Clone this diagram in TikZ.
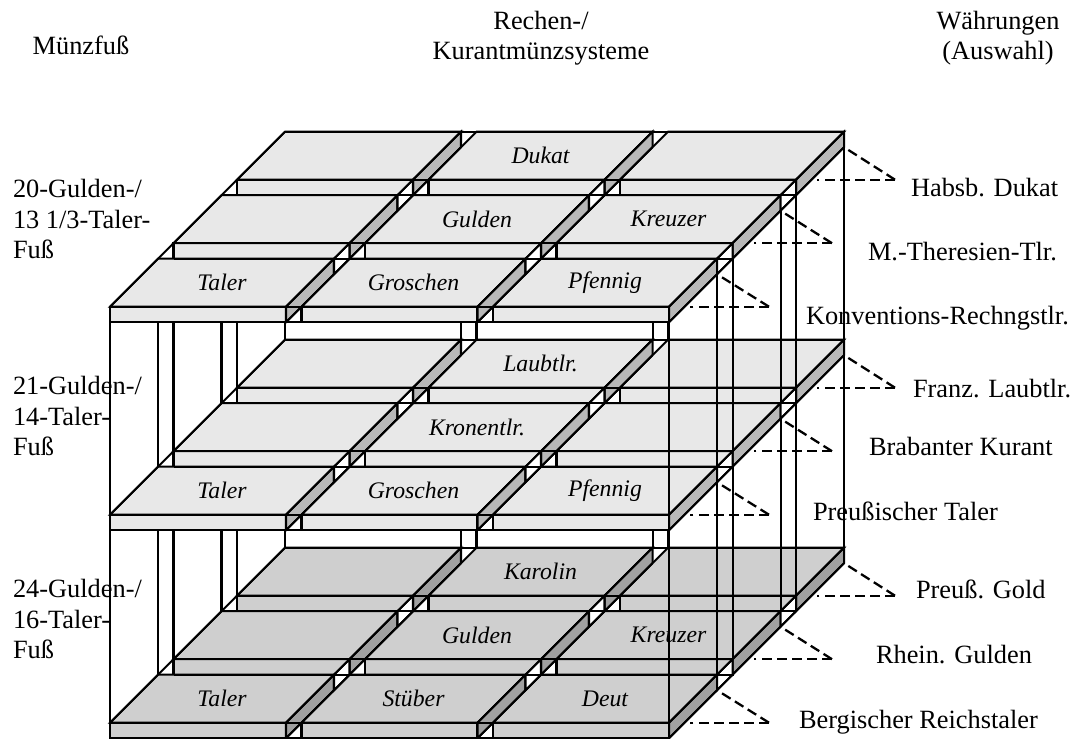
\documentclass[tikz,border=0pt]{standalone}
\usepackage{fontspec}
\setmainfont{Liberation Serif}
\usetikzlibrary{calc}

\begin{document}
\begin{tikzpicture}[x=0.2mm,y=-0.2mm,line width=1.15pt,
    slab/.style={draw=black,line join=miter},
    link/.style={dash pattern=on 5.7pt off 2.9pt,line width=1.3pt},
    coin/.style={font=\fontsize{13.5}{15}\selectfont\itshape},
    txt/.style={font=\fontsize{15}{17.1}\selectfont,align=left,inner sep=0pt}]

    \useasboundingbox (0,0) rectangle (1074,738);

    % pillars behind the slabs (left side and back)
    \foreach \lv in {0,1} {
      \foreach \rw in {0,1,2} {
        \foreach \kk in {0,48} {
          \pgfmathsetmacro{\yt}{306.7+208*\lv-63.5*\rw-\kk}
          \draw (110+63.5*\rw+\kk,\yt+15.5) -- (110+63.5*\rw+\kk,\yt+208);
        }
      }
      \foreach \px in {461,476.5,652.5,668} {
        \draw (\px,131.7+208*\lv+15.5) -- (\px,131.7+208*\lv+208);
      }
    }

    % three levels, rows back to front
    \foreach \lv/\tf/\sf in {0/black!9/black!28,1/black!9/black!28,2/black!19/black!37} {
      \pgfmathsetmacro{\yf}{306.7+208*\lv}
      \foreach \rw in {2,1,0} {
        \foreach \cl in {0,1,2} {
          \pgfmathsetmacro{\xa}{110+191.5*\cl+63.5*\rw}
          \pgfmathsetmacro{\ya}{\yf-63.5*\rw}
          \draw[slab,fill=\tf] (\xa,\ya) rectangle ++(176,15.5);
          \draw[slab,fill=\tf] (\xa,\ya) -- ++(48,-48) -- ++(176,0) -- ++(-48,48) -- cycle;
          \draw[slab,fill=\sf] (\xa+176,\ya) -- ++(48,-48) -- ++(0,15.5) -- ++(-48,48) -- cycle;
        }
      }
      % gaps between the rows
      \foreach \xr in {286,477.5,669} {
        \foreach \rw in {0,1} {
          \draw[slab,fill=white] (\xr+48+63.5*\rw,\yf-48-63.5*\rw) -- ++(15.5,-15.5) -- ++(0,15.5) -- ++(-15.5,15.5) -- cycle;
        }
      }
      \foreach \rw in {0,1,2} {
        \draw (110+63.5*\rw,\yf-63.5*\rw) -- (669+63.5*\rw,\yf-63.5*\rw);
        \draw (110+63.5*\rw,\yf-63.5*\rw+15.5) -- (669+63.5*\rw,\yf-63.5*\rw+15.5);
      }
      \draw (285,\yf-175) -- (844,\yf-175);
      \draw (110,\yf) -- ++(175,-175);
      \foreach \xr in {286,477.5,669} {
        \draw (\xr,\yf) -- ++(175,-175);
        \draw (\xr,\yf+15.5) -- ++(175,-175);
      }
    }

    % coin names on the slabs
    \foreach \lv/\rw/\cl/\coinname in {0/2/1/Dukat,0/1/1/Gulden,0/1/2/Kreuzer,
        0/0/0/Taler,0/0/1/Groschen,0/0/2/Pfennig,
        1/2/1/Laubtlr.,1/1/1/Kronentlr.,1/0/0/Taler,1/0/1/Groschen,1/0/2/Pfennig,
        2/2/1/Karolin,2/1/1/Gulden,2/1/2/Kreuzer,2/0/0/Taler,2/0/1/Stüber,2/0/2/Deut}
      \node[coin] (m-\lv-\rw-\cl) at (110+191.5*\cl+63.5*\rw+112,306.7+208*\lv-63.5*\rw-24) {\coinname};

    % pillars in front (right side)
    \foreach \lv in {0,1} {
      \foreach \rw in {0,1,2} {
        \foreach \kk in {0,48} {
          \pgfmathsetmacro{\yt}{306.7+208*\lv-63.5*\rw-\kk}
          \draw (669+63.5*\rw+\kk,\yt+15.5) -- (669+63.5*\rw+\kk,\yt+208);
        }
      }
    }

    % dashed pointers
    \foreach \lv in {0,1,2} {
      \foreach \rw in {0,1,2} {
        \pgfmathsetmacro{\ya}{306.7+208*\lv-63.5*\rw}
        \coordinate (tip-\lv-\rw) at (769+63*\rw,\ya);
        \coordinate (back-\lv-\rw) at (717+63.5*\rw,\ya-32.5);
        \coordinate (side-\lv-\rw) at (690+63.5*\rw,\ya);
        \draw[link] (tip-\lv-\rw) -- (back-\lv-\rw);
        \draw[link] (tip-\lv-\rw) -- (side-\lv-\rw);
      }
    }

    \node[txt] (hd-fuss) at (81,45) {Münzfuß};
    \node[txt,align=center] (hd-sys) at (541,38) {Rechen-/\\Kurantmünzsysteme};
    \node[txt,align=center] (hd-wahr) at (998,38) {Währungen\\(Auswahl)};

    \node[txt,anchor=west] (fuss-0) at (12,219) {20-Gulden-/\\13 1/3-Taler-\\Fuß};
    \node[txt,anchor=west] (fuss-1) at (12,416) {21-Gulden-/\\14-Taler-\\Fuß};
    \node[txt,anchor=west] (fuss-2) at (12,619) {24-Gulden-/\\16-Taler-\\Fuß};

    \node[txt,anchor=base west] (w-0-2) at (910,196) {Habsb. Dukat};
    \node[txt,anchor=base west] (w-0-1) at (867,260) {M.-Theresien-Tlr.};
    \node[txt,anchor=base west] (w-0-0) at (805,324) {Konventions-Rechngstlr.};
    \node[txt,anchor=base west] (w-1-2) at (912,397) {Franz. Laubtlr.};
    \node[txt,anchor=base west] (w-1-1) at (868,455) {Brabanter Kurant};
    \node[txt,anchor=base west] (w-1-0) at (812,520) {Preußischer Taler};
    \node[txt,anchor=base west] (w-2-2) at (915,598) {Preuß. Gold};
    \node[txt,anchor=base west] (w-2-1) at (875,663) {Rhein. Gulden};
    \node[txt,anchor=base west] (w-2-0) at (798,728) {Bergischer Reichstaler};
\end{tikzpicture}
\end{document}
